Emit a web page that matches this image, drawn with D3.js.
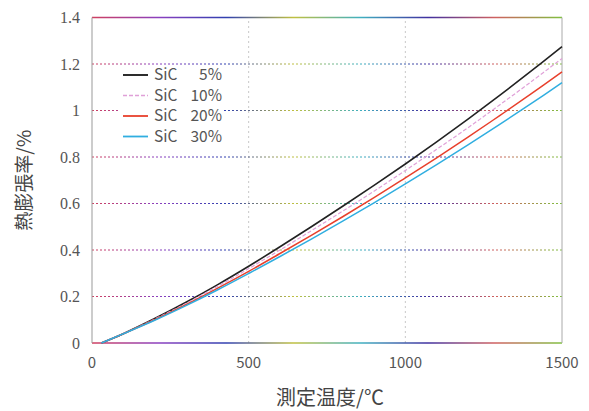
<!DOCTYPE html>
<html>
<head>
<meta charset="utf-8">
<script src="https://cdn.jsdelivr.net/npm/d3@7"></script>
<style>
  body { margin: 0; background: #fff; }
  svg { display: block; }
</style>
</head>
<body>
<div id="chart"></div>
<script>
// temperatures (°C) and thermal expansion (%)
const temps = [30, 100, 200, 300, 400, 500, 600, 700, 800, 900, 1000, 1100, 1200, 1300, 1400, 1500];
const sic5  = [0, 0.04, 0.105, 0.175, 0.25, 0.33, 0.414, 0.5, 0.588, 0.678, 0.77, 0.865, 0.963, 1.064, 1.168, 1.275];
const sic10 = [0, 0.04, 0.103, 0.17, 0.243, 0.32, 0.40, 0.483, 0.567, 0.653, 0.742, 0.833, 0.926, 1.023, 1.122, 1.224];
const sic20 = [0, 0.04, 0.10, 0.165, 0.235, 0.308, 0.385, 0.463, 0.543, 0.625, 0.71, 0.796, 0.885, 0.977, 1.07, 1.166];
const sic30 = [0, 0.04, 0.098, 0.161, 0.228, 0.299, 0.372, 0.447, 0.524, 0.603, 0.684, 0.767, 0.852, 0.939, 1.028, 1.12];
const seriesPct = ['5%', '10%', '20%', '30%'];
const xTicks = [0, 500, 1000, 1500];
const yTicks = [0, 0.2, 0.4, 0.6, 0.8, 1, 1.2, 1.4];

const width = 589, height = 411;
const margin = { top: 17.5, right: 27, bottom: 68, left: 92 };

const svg = d3.select('#chart').append('svg')
  .attr('width', width)
  .attr('height', height);

const x = d3.scaleLinear().domain([0, 1500]).range([margin.left, width - margin.right]);
const y = d3.scaleLinear().domain([0, 1.4]).range([height - margin.bottom, margin.top]);

// rainbow-ish gradient for the horizontal grid (mimics the scan's colour fringes)
const defs = svg.append('defs');
const grad = defs.append('linearGradient')
  .attr('id', 'rb')
  .attr('gradientUnits', 'userSpaceOnUse')
  .attr('x1', x(0)).attr('x2', x(1500)).attr('y1', 0).attr('y2', 0);
['#d04060', '#8a40c0', '#3040b0', '#c0c040', '#40b0c0', '#4030a0', '#d06060', '#80c040']
  .forEach((c, i, a) => grad.append('stop').attr('offset', i / (a.length - 1)).attr('stop-color', c));

// vertical grid
svg.append('g')
  .selectAll('line')
  .data([500, 1000])
  .join('line')
  .attr('x1', d => x(d)).attr('x2', d => x(d))
  .attr('y1', y(0)).attr('y2', y(1.4))
  .attr('stroke', '#c8c8c8')
  .attr('stroke-width', 1)
  .attr('stroke-dasharray', '2,3');

// horizontal grid
svg.append('g')
  .selectAll('line')
  .data(yTicks.filter(d => d > 0 && d < 1.4))
  .join('line')
  .attr('x1', x(0)).attr('x2', x(1500))
  .attr('y1', d => y(d)).attr('y2', d => y(d))
  .attr('stroke', 'url(#rb)')
  .attr('stroke-width', 1)
  .attr('stroke-dasharray', '2,2');

// frame
svg.append('line')
  .attr('x1', x(0)).attr('x2', x(1500)).attr('y1', y(1.4)).attr('y2', y(1.4))
  .attr('stroke', 'url(#rb)').attr('stroke-width', 1.5);
svg.append('line')
  .attr('x1', x(0)).attr('x2', x(1500)).attr('y1', y(0)).attr('y2', y(0))
  .attr('stroke', 'url(#rb)').attr('stroke-width', 1.5);
svg.append('line')
  .attr('x1', x(0)).attr('x2', x(0)).attr('y1', y(0)).attr('y2', y(1.4))
  .attr('stroke', '#999').attr('stroke-width', 1);
svg.append('line')
  .attr('x1', x(1500)).attr('x2', x(1500)).attr('y1', y(0)).attr('y2', y(1.4))
  .attr('stroke', '#aaa').attr('stroke-width', 1);

// y tick labels
svg.append('g')
  .selectAll('text')
  .data(yTicks)
  .join('text')
  .attr('x', 80)
  .attr('y', d => y(d))
  .attr('dy', '0.35em')
  .attr('text-anchor', 'end')
  .attr('font-family', '"Liberation Serif", "DejaVu Serif", serif')
  .attr('font-size', 16)
  .attr('fill', '#555')
  .text(d => d);

// x tick labels
svg.append('g')
  .selectAll('text')
  .data(xTicks)
  .join('text')
  .attr('x', d => x(d))
  .attr('y', 368)
  .attr('text-anchor', 'middle')
  .attr('font-family', '"Noto Sans CJK JP", "Noto Sans", sans-serif')
  .attr('font-size', 15)
  .attr('fill', '#555')
  .text(d => d);

// axis titles
svg.append('text')
  .attr('x', 330)
  .attr('y', 405)
  .attr('text-anchor', 'middle')
  .attr('font-family', '"Noto Sans CJK JP", sans-serif')
  .attr('font-size', 20)
  .attr('fill', '#444')
  .text('測定温度/℃');

svg.append('text')
  .attr('transform', `translate(31,${y(0.7)}) rotate(-90)`)
  .attr('text-anchor', 'middle')
  .attr('font-family', '"Noto Sans CJK JP", sans-serif')
  .attr('font-size', 19)
  .attr('fill', '#444')
  .text('熱膨張率/%');

// curves
const series = [
  { pct: seriesPct[0], values: sic5,  color: '#222', width: 1.6, dash: null },
  { pct: seriesPct[1], values: sic10, color: '#e0a0d8', width: 1.2, dash: '4,2' },
  { pct: seriesPct[2], values: sic20, color: '#e8402c', width: 1.5, dash: null },
  { pct: seriesPct[3], values: sic30, color: '#30aee0', width: 1.5, dash: null }
];

const line = d3.line()
  .x((d, i) => x(temps[i]))
  .y(d => y(d))
  .curve(d3.curveCatmullRom);

svg.append('g')
  .selectAll('path')
  .data(series)
  .join('path')
  .attr('d', d => line(d.values))
  .attr('fill', 'none')
  .attr('stroke', d => d.color)
  .attr('stroke-width', d => d.width)
  .attr('stroke-dasharray', d => d.dash);

// legend
const legend = svg.append('g');
const row = legend.selectAll('g')
  .data(series)
  .join('g')
  .attr('transform', (d, i) => `translate(123,${75 + i * 20.5})`);

row.append('rect')
  .attr('x', -3).attr('y', -9).attr('width', 104).attr('height', 18)
  .attr('fill', '#fff');
row.append('line')
  .attr('x1', 0).attr('x2', 25)
  .attr('stroke', d => d.color)
  .attr('stroke-width', d => d.width + 0.3)
  .attr('stroke-dasharray', d => d.dash);
row.append('text')
  .attr('x', 31)
  .attr('dy', '0.35em')
  .attr('font-family', '"Noto Sans CJK JP", sans-serif')
  .attr('font-size', 15.5)
  .attr('fill', '#555')
  .text('SiC');
row.append('text')
  .attr('x', 99)
  .attr('dy', '0.35em')
  .attr('text-anchor', 'end')
  .attr('font-family', '"Noto Sans CJK JP", sans-serif')
  .attr('font-size', 15.5)
  .attr('fill', '#555')
  .text(d => d.pct);
</script>
</body>
</html>
